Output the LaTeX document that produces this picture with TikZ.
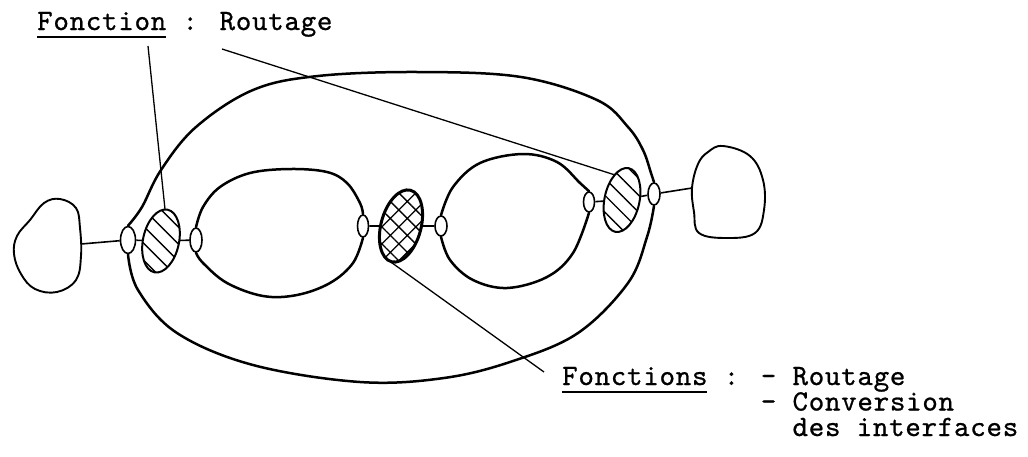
\documentclass[tikz,border=0pt]{standalone}
\usepackage{fontspec}
\newfontfamily\tw{lmmono10-regular}[Extension=.otf, FakeBold=0.8, LetterSpace=2.5]
\usetikzlibrary{shapes.geometric,patterns.meta}
\def\myul#1{\setbox0\hbox{#1}\rlap{\rule[-8pt]{\wd0}{2pt}}\box0\relax}
\begin{document}
\begin{tikzpicture}[x=1pt,y=-1pt,
  txt/.style={font=\tw\fontsize{29.5pt}{25pt}\selectfont, anchor=base west, inner sep=0pt},
  port/.style={ellipse, draw, line width=1.6pt, inner sep=0pt, fill=white},
  hatchnode/.style={ellipse, draw, line width=2pt, inner sep=0pt,
     pattern={Lines[angle=-45,distance=12pt,line width=1.4pt]}},
  crossnode/.style={ellipse, draw, line width=3pt, inner sep=0pt,
     pattern={Hatch[angle=45,distance=12pt,line width=1.3pt]}},
  loopline/.style={line width=2.5pt, line join=round, line cap=round},
  blobline/.style={line width=1.9pt, line join=round},
  lead/.style={line width=1.3pt},
  link/.style={line width=1.6pt}]
\useasboundingbox (0,0) rectangle (1028,456);

% texts
\node[txt] (title) at (37,30) {\myul{Fonction} : Routage};
\node[txt] (t1) at (562,385) {\vtop{\baselineskip=25.5pt\lineskiplimit=-100pt\lineskip=0pt
  \hbox{\myul{Fonctions} : - Routage}
  \hbox{\phantom{Fonctions : }- Conversion}
  \hbox{\phantom{Fonctions : - }des interfaces}}};

% small port ellipses
\node[port, minimum width=15pt, minimum height=27pt] (nL) at (128,240) {};
\node[port, minimum width=12pt, minimum height=24pt] (nA) at (196,240) {};
\node[port, minimum width=11pt, minimum height=22pt] (nB) at (363,226) {};
\node[port, minimum width=12pt, minimum height=20pt] (nC) at (441,226) {};
\node[port, minimum width=11pt, minimum height=20pt] (nD) at (589,202) {};
\node[port, minimum width=12pt, minimum height=22pt] (nR) at (654,194) {};

% hatched routers
\node[hatchnode, minimum width=36pt, minimum height=64pt, rotate=-12] (hL) at (161,241) {};
\node[hatchnode, minimum width=35pt, minimum height=65pt, rotate=-12] (hR) at (622,200) {};
\node[crossnode, minimum width=40pt, minimum height=74pt, rotate=-15] (hM) at (401,226) {};

% external blobs
\draw[blobline] plot[smooth cycle, tension=0.65] coordinates {
  (60,199) (76,208) (80,228) (81,256) (76,280) (57,292) (35,289) (21,274)
  (14,254) (17,236) (30,220) (44,203)};
\draw[blobline] plot[smooth cycle, tension=0.65] coordinates {
  (723,146) (750,156) (763,180) (764,210) (755,233) (727,238) (699,233)
  (694,212) (692,188) (698,164) (708,152)};
\coordinate (bL) at (81,244);
\coordinate (bR) at (692,188);

% links
\draw[link] (bL) -- (nL);
\draw[link] (nL) -- (hL);
\draw[link] (hL) -- (nA);
\draw[link] (nB) -- (hM);
\draw[link] (hM) -- (nC);
\draw[link] (nD) -- (hR);
\draw[link] (hR) -- (nR);
\draw[link] (nR) -- (bR);

% outer loop
\draw[loopline] plot[smooth, tension=0.6] coordinates {
  (nL.north) (142,207) (161,170) (196,127) (253,90) (318,76) (418,72)
  (521,77) (597,100) (628,127) (643,150) (651,173) (nR.north)};
\draw[loopline] plot[smooth, tension=0.6] coordinates {
  (nL.south) (138,290) (177,333) (253,365) (360,382) (444,378) (513,361)
  (578,333) (628,283) (647,237) (nR.south)};

% inner left loop
\draw[loopline] plot[smooth, tension=0.6] coordinates {
  (nA.north) (203,207) (220,187) (250,173) (290,169) (327,172) (347,183)
  (360,203) (nB.north)};
\draw[loopline] plot[smooth, tension=0.6] coordinates {
  (nA.south) (203,263) (227,283) (263,296) (297,295) (330,283) (353,263)
  (nB.south)};

% inner right loop
\draw[loopline] plot[smooth, tension=0.6] coordinates {
  (nC.north) (453,187) (480,163) (523,154) (557,162) (580,183) (nD.north)};
\draw[loopline] plot[smooth, tension=0.6] coordinates {
  (nC.south) (450,260) (473,280) (507,288) (547,277) (573,253) (nD.south)};

% leader lines
\coordinate (c1) at (148,46);
\coordinate (c2) at (222,49);
\coordinate (c3) at (544,372);
\draw[lead] (c1) -- (hL.95);
\draw[lead] (c2) -- (hR.120);
\draw[lead] (hM.south) -- (c3);
\end{tikzpicture}
\end{document}
